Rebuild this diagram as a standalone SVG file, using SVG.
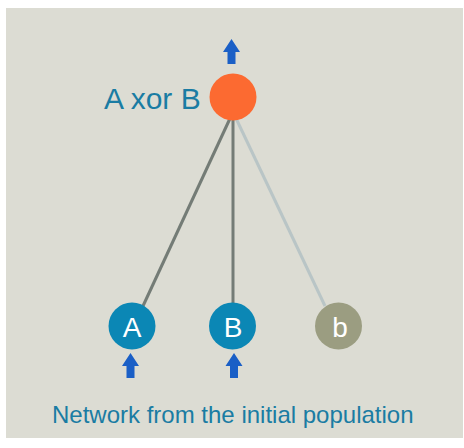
<svg xmlns="http://www.w3.org/2000/svg" width="464" height="448" viewBox="0 0 464 448">
<defs>
<style>
.lbl{font-family:"Liberation Sans",Arial,sans-serif;fill:#1a7ca3}
.nt{font-family:"Liberation Sans",Arial,sans-serif;fill:#ffffff;font-size:28px;text-anchor:middle}
.arrow{fill:#1a5fc6}
.edge{stroke:#747c76;stroke-width:3;fill:none}
.edge-light{stroke:#b9c5c6;stroke-width:3;fill:none}
</style>
<path id="up" d="M0,-13 L8.5,0 L4,0 L4,12 L-4,12 L-4,0 L-8.5,0 Z"/>
</defs>
<rect x="0" y="0" width="464" height="448" fill="#ffffff"/>
<rect x="6" y="8" width="457" height="430" fill="#dcdcd3"/>
<g id="connectors">
<line class="edge" x1="233" y1="112" x2="143" y2="306"/>
<line class="edge" x1="233" y1="112" x2="233" y2="303"/>
<line class="edge-light" x1="233" y1="112" x2="325" y2="306"/>
</g>
<g id="node-xor">
<use href="#up" class="arrow" x="231.5" y="52"/>
<circle cx="233" cy="97" r="23.5" fill="#fc6a31"/>
<text class="lbl" x="104" y="109" font-size="30">A xor B</text>
</g>
<g id="node-A">
<circle cx="132" cy="326" r="23.5" fill="#0b87b5"/>
<text class="nt" x="132" y="337">A</text>
<use href="#up" class="arrow" x="130.5" y="366"/>
</g>
<g id="node-B">
<circle cx="232.5" cy="326" r="23.5" fill="#0b87b5"/>
<text class="nt" x="233" y="337">B</text>
<use href="#up" class="arrow" x="234" y="366"/>
</g>
<g id="node-b">
<circle cx="338.5" cy="326" r="23.5" fill="#9b9d81"/>
<text class="nt" x="340" y="337">b</text>
</g>
<text class="lbl" x="52" y="423" font-size="24">Network from the initial population</text>
</svg>
